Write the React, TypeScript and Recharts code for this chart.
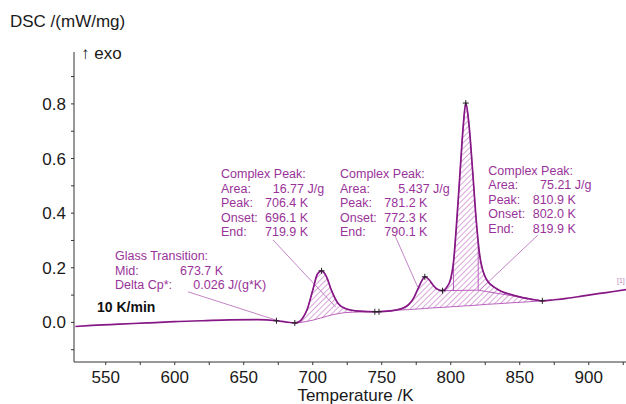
import React from "react";
import { ComposedChart, Line, Area, Scatter, XAxis, YAxis, ReferenceLine } from "recharts";

// DSC trace, 10 K/min (temperature in K, signal in mW/mg, exo up)
const temps = [
  528, 540, 560, 580, 600, 620, 640, 660, 673.7, 680, 687, 690, 693, 696, 700, 703.5, 706.4,
  710, 713.5, 718.4, 724, 734, 746, 752, 760, 766, 770, 773, 776, 779, 781.2, 784, 787, 790,
  794, 797, 800, 802, 804, 806.5, 809, 810.9, 813, 816, 818.5, 821, 825.8, 833, 845, 855,
  866.4, 875, 884, 895, 908, 918, 927,
];
const dsc = [
  -0.015, -0.011, -0.006, -0.002, 0.003, 0.006, 0.009, 0.01, 0.006, 0.002, -0.002, 0.002, 0.018,
  0.048, 0.118, 0.178, 0.189, 0.167, 0.118, 0.069, 0.05, 0.041, 0.039, 0.04, 0.045, 0.054, 0.068,
  0.088, 0.12, 0.152, 0.167, 0.158, 0.138, 0.122, 0.116, 0.128, 0.16, 0.22, 0.345, 0.53, 0.715,
  0.803, 0.735, 0.545, 0.372, 0.245, 0.158, 0.124, 0.1, 0.088, 0.079, 0.083, 0.088, 0.096, 0.106,
  0.113, 0.12,
];

// integration baselines under the hatched peak areas
const baseFirst: [number, number][] = [
  [687, -0.002], [690, -0.001], [693, 0.001], [696, 0.004], [700, 0.008], [703.5, 0.013],
  [706.4, 0.017], [710, 0.022], [713.5, 0.027], [718.4, 0.032], [724, 0.036], [734, 0.038],
  [746, 0.039],
];
const baseSecond: [number, number][] = [
  [746, 0.039], [752, 0.041], [760, 0.044], [766, 0.046], [770, 0.047], [773, 0.048],
  [776, 0.049], [779, 0.05], [781.2, 0.051], [784, 0.052], [787, 0.053], [790, 0.054],
  [794, 0.055], [797, 0.056], [800, 0.057], [802, 0.058], [804, 0.058], [806.5, 0.059],
  [809, 0.06], [810.9, 0.061], [813, 0.061], [816, 0.062], [818.5, 0.063], [821, 0.064],
  [825.8, 0.066], [833, 0.068], [845, 0.072], [855, 0.075], [866.4, 0.079],
];

// "+" evaluation marks on the curve
const marks: [number, number][] = [
  [673.7, 0.006], [687, -0.002], [706.4, 0.189], [745, 0.039], [748, 0.039],
  [781.2, 0.167], [794, 0.116], [810.9, 0.803], [866.4, 0.079],
];

// partial-area boundaries of the big peak
const splitLines: [number, number][][] = [
  [[794, 0.116], [819.9, 0.118]],
  [[819.9, 0.118], [866.4, 0.079]],
  [[802, 0.116], [802, 0.22]],
  [[819.9, 0.118], [819.9, 0.29]],
];

// leader lines from the result boxes to the curve
const leaders: [number, number][][] = [
  [[609.6, 0.112], [673.7, 0.008]],
  [[671.2, 0.302], [716.7, 0.056]],
  [[759.4, 0.32], [776.1, 0.129]],
  [[863.2, 0.32], [821, 0.118]],
];

const xTicks = [550, 575, 600, 625, 650, 675, 700, 725, 750, 775, 800, 825, 850, 875, 900, 925];
const yTicks = [-0.1, 0, 0.1, 0.2, 0.3, 0.4, 0.5, 0.6, 0.7, 0.8, 0.9];

const lookup = (pairs: [number, number][], t: number) => {
  const hit = pairs.find((p) => p[0] === t);
  return hit ? hit[1] : null;
};

const data = temps.map((T, i) => {
  const b1 = lookup(baseFirst, T);
  const b2 = lookup(baseSecond, T);
  return {
    T,
    dsc: dsc[i],
    band1: b1 === null ? null : [b1, dsc[i]],
    band2: b2 === null ? null : [b2, dsc[i]],
  };
});
const markData = marks.map(([T, v]) => ({ T, dsc: v }));

const FONT = "'Liberation Sans', Arial, sans-serif";
const CURVE = "#861886";
const HATCH = "#b250b6";
const NOTE = "#993399";
const GUIDE = "#c586c8";

const Cross = ({ cx, cy }: any) => (
  <path d={`M${cx - 3},${cy}h6M${cx},${cy - 3}v6`} stroke="#222" strokeWidth={1} />
);

type Row = [string, string, number];
const Block = ({ x, y, title, rows }: { x: number; y: number; title: string; rows: Row[] }) => (
  <g fill={NOTE} fontSize={12.5} fontFamily={FONT}>
    <text x={x} y={y} dominantBaseline="central">{title}</text>
    {rows.map(([k, v, vx], i) => (
      <g key={k}>
        <text x={x} y={y + 14.5 * (i + 1)} dominantBaseline="central">{k}</text>
        <text x={vx} y={y + 14.5 * (i + 1)} dominantBaseline="central">{v}</text>
      </g>
    ))}
  </g>
);

export default function App() {
  return (
    <div style={{ position: "absolute", left: 0, top: 0, width: 626, height: 404, background: "#fff" }}>
      <ComposedChart width={626} height={404} data={data} margin={{ top: 52, right: 0, bottom: 0, left: 0 }}>
        <defs>
          <pattern id="hatch" patternUnits="userSpaceOnUse" width={4} height={4} patternTransform="rotate(45)">
            <line x1={0} y1={0} x2={0} y2={4} stroke={HATCH} strokeWidth={1} />
          </pattern>
        </defs>
        <XAxis
          dataKey="T"
          type="number"
          domain={[527, 927]}
          allowDataOverflow
          ticks={xTicks}
          interval={0}
          height={42}
          tickSize={3}
          tickMargin={6}
          stroke="#333"
          tick={{ fontSize: 17, fill: "#1a1a1a", fontFamily: FONT }}
          tickFormatter={(v: number) => (v % 50 === 0 ? String(v) : "")}
        />
        <YAxis
          type="number"
          domain={[-0.145, 0.99]}
          allowDataOverflow
          ticks={yTicks}
          interval={0}
          width={74}
          tickSize={3}
          tickMargin={5}
          stroke="#333"
          tick={{ fontSize: 17, fill: "#1a1a1a", fontFamily: FONT }}
          tickFormatter={(v: number) => (Math.round(v * 10) % 2 === 0 && v >= 0 ? v.toFixed(1) : "")}
        />
        <Area dataKey="band1" type="monotone" stroke={HATCH} strokeWidth={0.9} fill="url(#hatch)" fillOpacity={1} isAnimationActive={false} />
        <Area dataKey="band2" type="monotone" stroke={HATCH} strokeWidth={0.9} fill="url(#hatch)" fillOpacity={1} isAnimationActive={false} />
        {splitLines.map((s, i) => (
          <ReferenceLine key={"s" + i} segment={[{ x: s[0][0], y: s[0][1] }, { x: s[1][0], y: s[1][1] }]} stroke={HATCH} strokeWidth={0.9} ifOverflow="visible" />
        ))}
        {leaders.map((s, i) => (
          <ReferenceLine key={"l" + i} segment={[{ x: s[0][0], y: s[0][1] }, { x: s[1][0], y: s[1][1] }]} stroke={GUIDE} strokeWidth={1} ifOverflow="visible" />
        ))}
        <Line dataKey="dsc" type="monotone" stroke={CURVE} strokeWidth={1.7} dot={false} activeDot={false} isAnimationActive={false} />
        <Scatter data={markData} dataKey="dsc" shape={<Cross />} isAnimationActive={false} />
      </ComposedChart>

      <svg width={626} height={404} style={{ position: "absolute", left: 0, top: 0, pointerEvents: "none" }}>
        <g fontFamily={FONT} fill="#1a1a1a" fontSize={17}>
          <text x={10} y={21.7} dominantBaseline="central">DSC /(mW/mg)</text>
          <text x={81} y={53.3} dominantBaseline="central">↑ exo</text>
          <text x={355.5} y={395} textAnchor="middle" dominantBaseline="central">Temperature /K</text>
        </g>
        <text x={97} y={306.7} dominantBaseline="central" fontFamily={FONT} fontSize={14} fontWeight="bold" fill="#111">
          10 K/min
        </text>
        <Block x={115} y={256} title="Glass Transition:" rows={[["Mid:", "673.7 K", 180], ["Delta Cp*:", "0.026 J/(g*K)", 193.3]]} />
        <Block
          x={221}
          y={174}
          title="Complex Peak:"
          rows={[["Area:", "16.77 J/g", 272.7], ["Peak:", "706.4 K", 265], ["Onset:", "696.1 K", 265], ["End:", "719.9 K", 265]]}
        />
        <Block
          x={340}
          y={174}
          title="Complex Peak:"
          rows={[["Area:", "5.437 J/g", 398.3], ["Peak:", "781.2 K", 384.3], ["Onset:", "772.3 K", 384.3], ["End:", "790.1 K", 384.3]]}
        />
        <Block
          x={488.3}
          y={170.7}
          title="Complex Peak:"
          rows={[["Area:", "75.21 J/g", 540], ["Peak:", "810.9 K", 532.7], ["Onset:", "802.0 K", 532.7], ["End:", "819.9 K", 532.7]]}
        />
        <text x={617} y={283} fontSize={7} fill="#b88ac0" fontFamily={FONT}>[1]</text>
      </svg>
    </div>
  );
}
